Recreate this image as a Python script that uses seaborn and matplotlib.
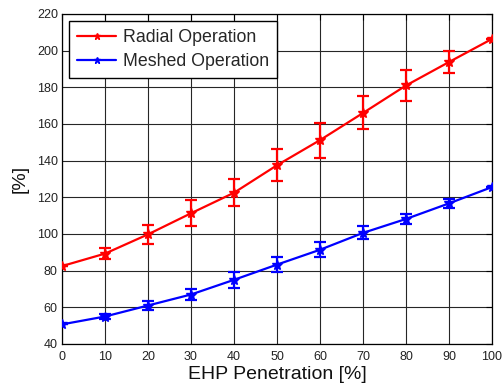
import matplotlib
matplotlib.use("Agg")
import matplotlib.pyplot as plt
import seaborn as sns
import pandas as pd

penetration = [0, 10, 20, 30, 40, 50, 60, 70, 80, 90, 100]
radial = [82.5, 89.3, 99.8, 111.3, 122.5, 137.5, 151.2, 166.0, 181.0, 193.8, 206.4]
radial_err = [0, 3.0, 5.3, 7.0, 7.5, 8.7, 9.5, 9.0, 8.5, 6.2, 0]
meshed = [50.7, 55.0, 61.0, 67.0, 75.0, 83.3, 91.4, 100.6, 108.2, 116.7, 125.6]
meshed_err = [0, 1.3, 2.5, 2.8, 4.4, 3.9, 4.0, 3.6, 2.5, 2.4, 0]
series_names = ["Radial Operation", "Meshed Operation"]
xticks = [0, 10, 20, 30, 40, 50, 60, 70, 80, 90, 100]
yticks = [40, 60, 80, 100, 120, 140, 160, 180, 200, 220]

sns.set_style("white")
plt.rcParams['font.family'] = ['Liberation Sans', 'DejaVu Sans']

df = pd.DataFrame({
    "x": penetration * 2,
    "y": radial + meshed,
    "series": [series_names[0]] * len(penetration) + [series_names[1]] * len(penetration),
})

fig = plt.figure(figsize=(5.03, 3.89), dpi=100)
ax = fig.add_axes([62 / 503, 1 - 344 / 389, (492 - 62) / 503, (344 - 14) / 389])

palette = {series_names[0]: "#ff0000", series_names[1]: "#0000ff"}
sns.lineplot(data=df, x="x", y="y", hue="series", palette=palette, marker="*",
             markersize=7, markeredgewidth=1.0, linewidth=1.6, ax=ax, zorder=3)
for ln in ax.lines:
    ln.set_markeredgecolor(ln.get_color())

ax.errorbar(penetration, radial, yerr=radial_err, fmt="none", ecolor="#ff0000",
            elinewidth=1.6, capsize=4, capthick=1.6, zorder=3)
ax.errorbar(penetration, meshed, yerr=meshed_err, fmt="none", ecolor="#0000ff",
            elinewidth=1.6, capsize=4, capthick=1.6, zorder=3)

ax.set_xlim(0, 100)
ax.set_ylim(40, 220)
ax.set_xticks(xticks)
ax.set_yticks(yticks)
ax.tick_params(direction="in", length=4, width=0.8, labelsize=9, colors="#000000",
               labelcolor="#222222", top=True, right=True, pad=3)
ax.tick_params(axis="x", pad=5)
ax.grid(True, color="#262626", linewidth=0.8, linestyle="-")
ax.set_axisbelow(True)
for s in ax.spines.values():
    s.set_visible(True)
    s.set_color("#000000")
    s.set_linewidth(0.9)

ax.set_xlabel("EHP Penetration [%]", fontsize=14, labelpad=2, color="#111111")
ax.set_ylabel("[%]", fontsize=14, labelpad=6, color="#111111")

leg = ax.legend(loc="upper left", fontsize=12.8, frameon=True, fancybox=False,
                edgecolor="#000000", framealpha=1, borderpad=0.45, labelspacing=0.4,
                handlelength=2.2, handletextpad=0.4, borderaxespad=0.4)
leg.get_frame().set_linewidth(1.0)
for ln in leg.get_lines():
    ln.set_markeredgecolor(ln.get_color())
    ln.set_markersize(5)

fig.savefig("out.png", dpi=100)
